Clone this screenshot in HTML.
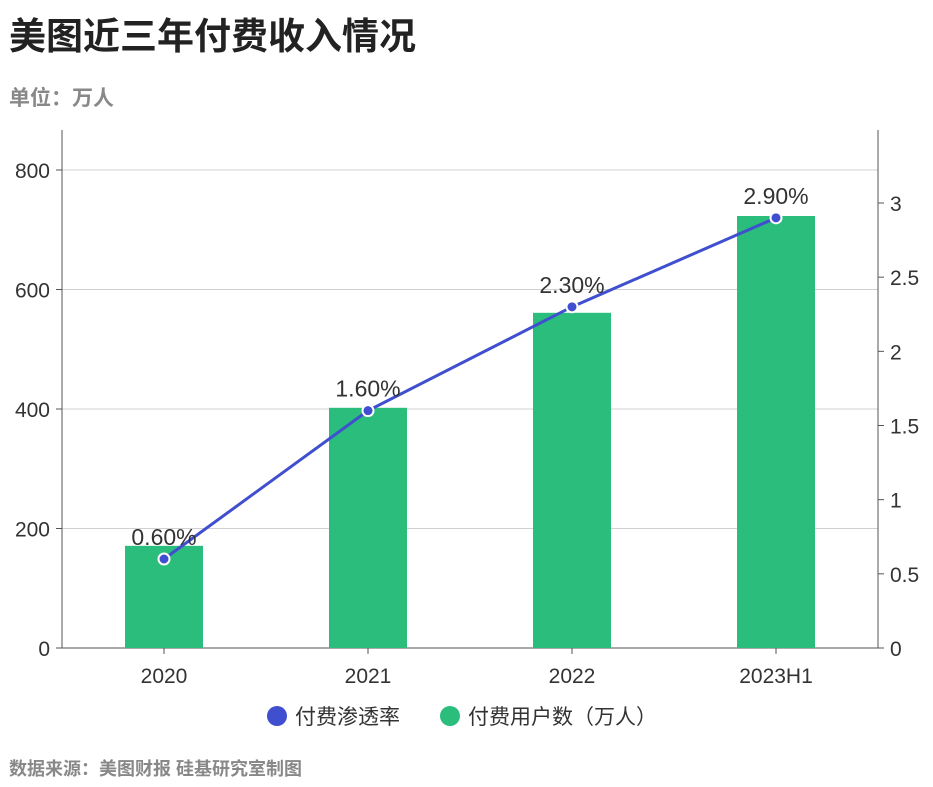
<!DOCTYPE html>
<html><head><meta charset="utf-8"><style>
body{margin:0;background:#fff;font-family:"Liberation Sans","Noto Sans CJK SC",sans-serif;}
#wrap{position:relative;width:933px;height:787px;overflow:hidden}
.t{position:absolute;left:9px;top:6px;font-size:37px;font-weight:bold;color:#222;}
.u{position:absolute;left:9px;top:82px;font-size:21px;font-weight:bold;color:#888;}
.s{position:absolute;left:9px;top:755px;font-size:18px;font-weight:bold;color:#888;}
</style></head><body><div id="wrap">
<div class="t">美图近三年付费收入情况</div>
<div class="u">单位：万人</div>
<svg id="c" width="933" height="787" style="position:absolute;left:0;top:0"></svg>
<div class="s">数据来源：美图财报 硅基研究室制图</div>
</div>
<script>
const categories=["2020","2021","2022","2023H1"];
const users=[171,402,561,723];
const rates=[0.6,1.6,2.3,2.9];
const rateLabels=["0.60%","1.60%","2.30%","2.90%"];
const leftTicks=[0,200,400,600,800];
const rightTicks=[0,0.5,1,1.5,2,2.5,3];
const NS="http://www.w3.org/2000/svg";
const svg=document.getElementById("c");
const X0=62,X1=878,Y0=648,YT=130;
const band=(X1-X0)/categories.length;
const xc=i=>X0+band*(i+0.5);
const yL=v=>Y0-v*(Y0-170)/800;
const yR=v=>Y0-v*(Y0-203)/3;
function mk(t,a,txt){const e=document.createElementNS(NS,t);for(const k in a)e.setAttribute(k,a[k]);if(txt!==undefined)e.textContent=txt;svg.appendChild(e);return e;}
leftTicks.forEach(v=>{
 if(v>0){const g=mk("line",{x1:X0,x2:X1,y1:yL(v),y2:yL(v),stroke:"#d0d0d0","stroke-width":1});}
 mk("line",{x1:X0-6,x2:X0,y1:yL(v),y2:yL(v),stroke:"#555"});
 const t=mk("text",{x:X0-12,y:yL(v)+8,"text-anchor":"end","font-size":21,fill:"#333"},v);
 
});
rightTicks.forEach(v=>{
 mk("line",{x1:X1,x2:X1+6,y1:yR(v),y2:yR(v),stroke:"#555"});
 const t=mk("text",{x:X1+12,y:yR(v)+8,"font-size":21,fill:"#333"},v);
 
});
mk("line",{x1:X0,x2:X0,y1:YT,y2:Y0,stroke:"#555"});
mk("line",{x1:X1,x2:X1,y1:YT,y2:Y0,stroke:"#555"});
mk("line",{x1:X0,x2:X1,y1:Y0,y2:Y0,stroke:"#555"});
categories.forEach((c,i)=>{
 mk("line",{x1:xc(i),x2:xc(i),y1:Y0,y2:Y0+6,stroke:"#555"});
 const t=mk("text",{x:xc(i),y:Y0+35,"text-anchor":"middle","font-size":21,fill:"#333"},c);
 
 const b=mk("rect",{x:xc(i)-39,y:yL(users[i]),width:78,height:Y0-yL(users[i]),fill:"#2abd7c"});
 
});
const ln=mk("polyline",{points:rates.map((r,i)=>xc(i)+","+yR(r)).join(" "),fill:"none",stroke:"#3f4fcf","stroke-width":3});

rates.forEach((r,i)=>{
 const p=mk("circle",{cx:xc(i),cy:yR(r),r:5.5,fill:"#3f4fcf",stroke:"#fff","stroke-width":2});
 
 const t=mk("text",{x:xc(i),y:yR(r)-14,"text-anchor":"middle","font-size":23,fill:"#333"},rateLabels[i]);
 
});
const l1=mk("circle",{cx:277,cy:716,r:10,fill:"#3f4fcf"});
const l1t=mk("text",{x:295,y:724,"font-size":21,fill:"#333"},"付费渗透率");
const l2=mk("circle",{cx:450,cy:716,r:10,fill:"#2abd7c"});
const l2t=mk("text",{x:468,y:724,"font-size":21,fill:"#333"},"付费用户数（万人）");
</script></body></html>
